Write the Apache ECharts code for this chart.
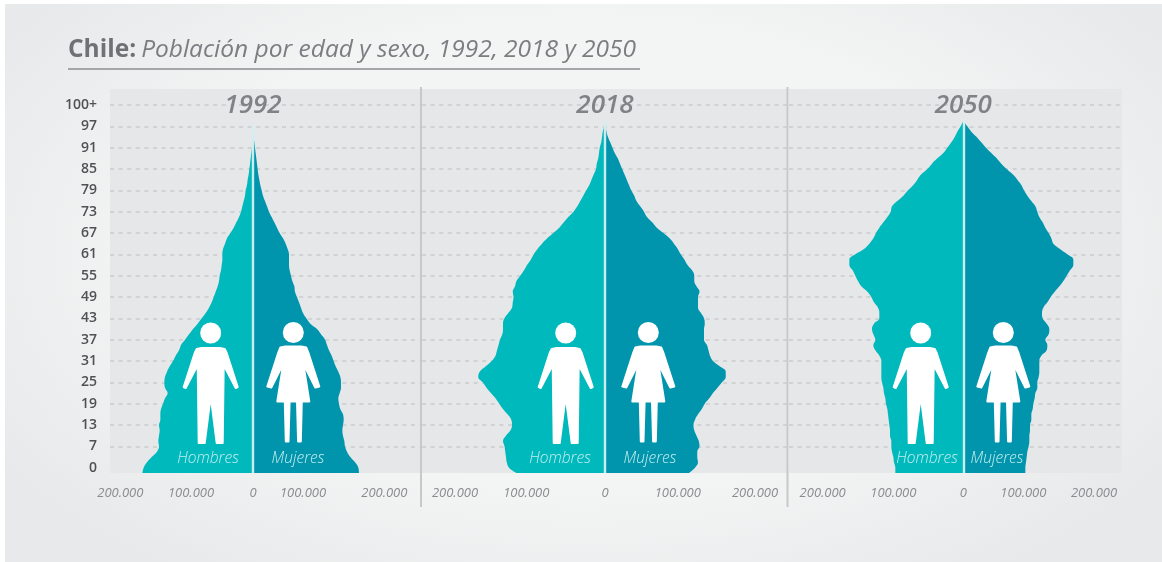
<!DOCTYPE html>
<html>
<head>
<meta charset="utf-8">
<style>
html,body{margin:0;padding:0;background:#fff;}
#frame{position:absolute;left:5px;top:4px;width:1157px;height:558px;background:radial-gradient(ellipse 60% 70% at 50% 45%,#f6f6f6 0%,#f3f4f4 60%,#e8e9ea 100%);}
#main{position:absolute;left:0;top:0;width:1162px;height:562px;}
</style>
<script src="https://cdn.jsdelivr.net/npm/echarts@6/dist/echarts.min.js"></script>
</head>
<body>
<div id="frame"></div>
<div id="main"></div>
<script>
// Age tick labels (bottom to top)
var ageLabels = ['0','7','13','19','25','31','37','43','49','55','61','67','73','79','85','91','97','100+'];

// Population in thousands, sampled at four steps per age tick, from the base of each pyramid upwards
var hombres1992 = [166,164,159,152,144,141,142,141,140,141,139,139,138,135,132,128,132,133,132,129,125,120,116,111,108,102,96,90,83,77,71,66,62,59,56,53,51,50,48,47,46,46,45,42,39,34,29,25,21,18,16,14,12,11,9,8,6.5,5.5,4.5,3.5,2.5,1.5,1,0.5,0.2,0];
var mujeres1992 = [159,158,153,146,141,138,137,135,134,135,136,135,131,129,128,130,132,132,131,128,124,121,118,114,111,108,102,96,86,80,75,72,69,66,63,62,59,57,55,54,54,54,52,49,45,40,36,32,28,24,21,18,15,13,11,9.5,8,7,6,5,4,3,2,1,0.5,0];
var hombres2018 = [118,128,131,132,133,134,136,132,126,124,125,130,136,141,146,152,158,163,169,167,159,151,146,144,142,140,137,136,136,134,129,124,123,122,123,120,118,113,108,104,99,95,90,84,77,69,61,55,49,42,37,33,29,25,21,18,15,12,11,9,8,7,5,4,3,1,0];
var mujeres2018 = [112,120,124,123,123,126,125,122,119,118,120,124,129,133,139,144,150,156,161,161,153,144,140,138,136,132,132,132,133,132,128,124,124,124,126,122,119,119,116,110,106,101,97,92,86,78,69,63,56,52,47,42,39,35,32,29,26,23,20,17,13,10,7,4,2,1,0];
var hombres2050 = [102,102,104,105,107,108,108,110,110,111,112,113,114,116,117,119,120,122,123,123,123,123,126,132,135,132,135,137,134,126,126,128,134,138,144,153,158,162,166,171,171,162,149,141,135,131,126,120,114,109,107,99,90,83,75,69,63,54,47,39,30,24,18,13,9,4,0];
var mujeres2050 = [93,93,94,95,96,98,99,99,100,100,102,102,104,105,107,108,111,111,113,114,114,114,117,125,126,123,128,129,125,119,118,120,126,131,137,144,150,155,160,165,165,156,145,135,132,128,123,119,114,111,108,102,96,91,87,81,74,65,57,50,42,34,27,20,12,6,0];

// Tick positions printed on each pyramid's axis (thousands), as they sit in the picture
var ticks1992 = [-199,-93,0,75,197];
var ticks2018 = [-200,-105,0,97,200];
var ticks2050 = [-211,-105,0,90,196];

var years = ['1992','2018','2050'];
var colorHombres = '#00b9bc';
var colorMujeres = '#0095ac';

var rowCount = 73;
var rows = [];
for (var r = 0; r < rowCount; r++) {
  rows.push((r - 1) % 4 === 0 && ageLabels[(r - 1) / 4] !== undefined ? ageLabels[(r - 1) / 4] : '');
}
var isTick = function (i) { return (i - 1) % 4 === 0 && i <= 69; };

var panels = [
  {year: years[0], left: 110, width: 310, min: -214.5, max: 250.5, m: hombres1992, f: mujeres1992, ticks: ticks1992, cx: 253, manX: 210.7, womanX: 293.3, hX: 208, mX: 298},
  {year: years[1], left: 422, width: 365, min: -244, max: 242.67, m: hombres2018, f: mujeres2018, ticks: ticks2018, cx: 605, manX: 565.7, womanX: 648.3, hX: 560, mX: 650},
  {year: years[2], left: 789, width: 333, min: -261.5, max: 238, m: hombres2050, f: mujeres2050, ticks: ticks2050, cx: 963.3, manX: 920.7, womanX: 1003.3, hX: 927, mX: 997}
];

// Icon outlines, relative to the head centre; stroked white with round joins
var manShape = [[0,63],[6,110],[12,110],[13,32],[25,55],[27,54],[16,20],[14,16],[9,15],[-9,15],[-14,16],[-16,20],[-27,54],[-25,55],[-13,32],[-12,110],[-6,110]];
var womanShape = [[-8.5,69],[-16,69],[-10,31],[-22,55],[-26,54],[-15,20],[-13,15],[-8,14],[8,14],[13,15],[15,20],[26,54],[22,55],[10,31],[16,69],[8.5,69],[7.5,109],[4.8,109],[3.7,69],[-3.7,69],[-4.8,109],[-7.5,109]];
var iconStyle = {fill: '#fff', stroke: '#fff', lineWidth: 2, lineJoin: 'round'};

var grids = [], xAxes = [], yAxes = [], series = [], titles = [], graphics = [];

titles.push({
  left: 68, top: 38, padding: 0,
  text: '{b|Chile:} {i|Población por edad y sexo, 1992, 2018 y 2050}',
  textStyle: {fontWeight: 'normal', rich: {
    b: {fontFamily: 'Open Sans', fontWeight: 700, fontSize: 24.5, color: '#6f7275'},
    i: {fontFamily: 'Open Sans', fontStyle: 'italic', fontWeight: 400, fontSize: 24.5, color: '#7b7e81'}
  }}
});

panels.forEach(function (p, i) {
  grids.push({left: p.left, width: p.width, top: 89, height: 384, show: true, backgroundColor: '#e6e7e9', borderWidth: 0});
  xAxes.push({
    type: 'value', gridIndex: i, min: p.min, max: p.max,
    axisLine: {show: false}, axisTick: {show: false}, splitLine: {show: false},
    axisLabel: {
      customValues: p.ticks, margin: 14, color: '#8a8c8f',
      fontFamily: 'Open Sans', fontStyle: 'italic', fontSize: 13,
      formatter: function (v) { return v === 0 ? '0' : Math.abs(v) > 150 ? '200.000' : '100.000'; }
    }
  });
  yAxes.push({
    type: 'category', gridIndex: i, data: rows, boundaryGap: false,
    axisLine: {show: false}, axisTick: {show: false},
    axisLabel: i === 0 ? {
      show: true, interval: function (idx) { return isTick(idx); }, margin: 13,
      color: '#4f5154', fontFamily: 'Open Sans', fontWeight: 600, fontSize: 14
    } : {show: false},
    splitLine: {
      show: true, interval: function (idx) { return idx >= 5 && isTick(idx); },
      lineStyle: {color: '#d0d2d4', type: [4, 4.6], width: 2}
    }
  });
  var apex = Math.max(p.m.length, p.f.length) - 1;
  series.push({
    type: 'line', name: 'Hombres ' + p.year, xAxisIndex: i, yAxisIndex: i,
    data: p.m.map(function (v) { return -v; }),
    symbol: 'none', smooth: 0.4, lineStyle: {width: 0}, silent: true,
    areaStyle: {color: colorHombres, opacity: 1}, z: 3
  });
  series.push({
    type: 'line', name: 'Mujeres ' + p.year, xAxisIndex: i, yAxisIndex: i,
    data: p.f,
    symbol: 'none', smooth: 0.4, lineStyle: {width: 0}, silent: true,
    areaStyle: {color: colorMujeres, opacity: 1}, z: 3,
    markLine: {
      silent: true, symbol: 'none', animation: false, label: {show: false},
      lineStyle: {color: '#d5f0f2', type: 'solid', width: 2.4, opacity: 0.95},
      data: [[{coord: [0, 0]}, {coord: [0, apex]}]]
    }
  });
  titles.push({
    left: p.cx, top: 93, padding: 0, textAlign: 'center', text: p.year,
    textStyle: {fontFamily: 'Open Sans', fontStyle: 'italic', fontWeight: 600, fontSize: 26, color: '#808386'}
  });
  graphics.push({type: 'circle', z: 50, shape: {cx: p.manX, cy: 333, r: 10.5}, style: {fill: '#fff'}});
  graphics.push({type: 'polygon', z: 50, x: p.manX, y: 333, shape: {points: manShape}, style: iconStyle});
  graphics.push({type: 'circle', z: 50, shape: {cx: p.womanX, cy: 332.5, r: 10.5}, style: {fill: '#fff'}});
  graphics.push({type: 'polygon', z: 50, x: p.womanX, y: 332.5, shape: {points: womanShape}, style: iconStyle});
  graphics.push({type: 'text', z: 50, x: p.hX, y: 459, style: {text: 'Hombres', fill: '#c4eef0', font: 'italic 300 15.5px "Open Sans"', textAlign: 'center', textVerticalAlign: 'middle'}});
  graphics.push({type: 'text', z: 50, x: p.mX, y: 459, style: {text: 'Mujeres', fill: '#c4eef0', font: 'italic 300 15.5px "Open Sans"', textAlign: 'center', textVerticalAlign: 'middle'}});
});

graphics.push({type: 'line', z: 40, shape: {x1: 68, y1: 69, x2: 640, y2: 69}, style: {stroke: '#a4a6a9', lineWidth: 2}});
graphics.push({type: 'line', z: 40, shape: {x1: 421, y1: 87, x2: 421, y2: 507}, style: {stroke: '#c6c8ca', lineWidth: 2}});
graphics.push({type: 'line', z: 40, shape: {x1: 787.5, y1: 87, x2: 787.5, y2: 507}, style: {stroke: '#c6c8ca', lineWidth: 2}});

var chart = echarts.init(document.getElementById('main'), null, {renderer: 'canvas'});
chart.setOption({
  animation: false,
  backgroundColor: 'transparent',
  title: titles,
  grid: grids,
  xAxis: xAxes,
  yAxis: yAxes,
  series: series,
  graphic: {elements: graphics}
});
</script>
</body>
</html>
